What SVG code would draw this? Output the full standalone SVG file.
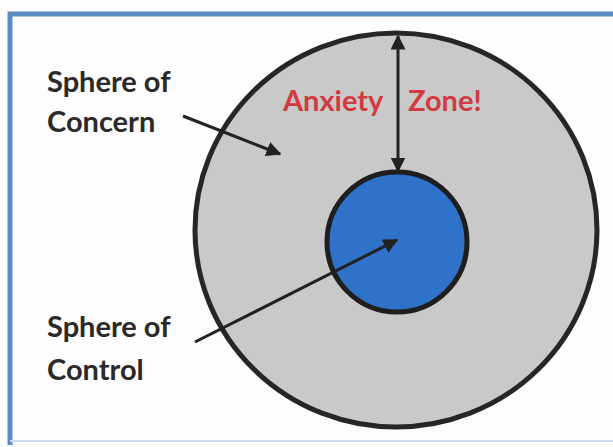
<svg xmlns="http://www.w3.org/2000/svg" width="613" height="447" viewBox="0 0 613 447">
<style>
.lbl{font-family:Lato,"Open Sans","Liberation Sans",sans-serif;font-weight:bold;font-size:29px;fill:#2a2a2a}
.red{font-family:Lato,"Open Sans","Liberation Sans",sans-serif;font-weight:bold;font-size:29px;fill:#d23a40}
.con{stroke:#222;stroke-width:3;fill:none}
</style>
<defs>
<marker id="ah" viewBox="0 0 10 10" refX="9" refY="5" markerWidth="5" markerHeight="5" orient="auto-start-reverse" markerUnits="strokeWidth">
<path d="M0,0 L10,5 L0,10 Z" fill="#222"/>
</marker>
</defs>
<rect x="0" y="0" width="613" height="447" fill="#fdfdfd"/>
<path d="M10,445 V14 H613" fill="none" stroke="#5a8bc2" stroke-width="5"/>
<line x1="10" y1="441" x2="613" y2="441" stroke="#c9dcef" stroke-width="2"/>
<g id="concern">
<ellipse cx="396" cy="230" rx="201" ry="197" fill="#c9c9c9" stroke="#262626" stroke-width="5"/>
</g>
<g id="control">
<circle cx="397" cy="242" r="70" fill="#2f72c9" stroke="#1e1e1e" stroke-width="5"/>
</g>
<g id="labels">
<text class="lbl" x="47" y="92">Sphere of</text>
<text class="lbl" x="47" y="132">Concern</text>
<text class="lbl" x="47" y="337">Sphere of</text>
<text class="lbl" x="47" y="380">Control</text>
<text class="red" x="283" y="111">Anxiety</text>
<text class="red" x="408" y="111">Zone!</text>
</g>
<g id="connectors">
<line class="con" x1="398" y1="36" x2="398" y2="171" marker-start="url(#ah)" marker-end="url(#ah)"/>
<line class="con" x1="183" y1="116" x2="280" y2="154" marker-end="url(#ah)"/>
<line class="con" x1="195" y1="342" x2="397" y2="240" marker-end="url(#ah)"/>
</g>
</svg>
